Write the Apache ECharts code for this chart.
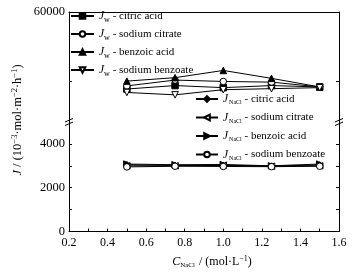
<!DOCTYPE html>
<html><head><meta charset="utf-8">
<script src="https://cdn.jsdelivr.net/npm/echarts@6/dist/echarts.min.js"></script>
<style>html,body{margin:0;padding:0;background:#fff}#c{width:362px;height:272px}</style>
</head><body><div id="c"></div>
<script>
// ---- data ----
const xValues = [0.5, 0.75, 1.0, 1.25, 1.5];
const jwCitricAcid = [48800, 49300, 49000, 49300, 49100];
const jwSodiumCitrate = [49250, 50100, 49900, 49800, 49100];
const jwBenzoicAcid = [49950, 50450, 51500, 50350, 49100];
const jwSodiumBenzoate = [48300, 47950, 48700, 48850, 49000];
const jnaclCitricAcid = [3050, 3020, 3010, 2990, 3040];
const jnaclSodiumCitrate = [3000, 3000, 3030, 2980, 3000];
const jnaclBenzoicAcid = [3080, 3050, 3060, 3000, 3080];
const jnaclSodiumBenzoate = [2950, 2980, 2970, 2960, 2980];
const yLowerLabels = [0, 2000, 4000];
const yLowerTicks = [1000, 2000, 3000, 4000];
const yUpperLabels = [60000];
const yUpperTicks = [50000];
const soluteNames = ['citric acid', 'sodium citrate', 'benzoic acid', 'sodium benzoate'];

const FONT = 'Liberation Serif';
const BLACK = '#000';
const pairs = arr => xValues.map((x, i) => [x, arr[i]]);

function mk(name, data, grid, symbol, rotate, filled) {
  return {
    name, type: 'line', data: pairs(data),
    xAxisIndex: grid, yAxisIndex: grid === 0 ? 0 : 2,
    symbol, symbolRotate: rotate, symbolSize: 6.5,
    showSymbol: true,
    lineStyle: { color: BLACK, width: 1 },
    itemStyle: { color: filled ? BLACK : '#fff', borderColor: BLACK, borderWidth: 1 },
    emphasis: { disabled: true }, z: 3
  };
}

const upperNames = soluteNames.map(s => 'Jw - ' + s);
const lowerNames = soluteNames.map(s => 'JNaCl - ' + s);

const series = [
  mk(upperNames[0], jwCitricAcid, 0, 'rect', 0, true),
  mk(upperNames[1], jwSodiumCitrate, 0, 'circle', 0, false),
  mk(upperNames[2], jwBenzoicAcid, 0, 'triangle', 0, true),
  mk(upperNames[3], jwSodiumBenzoate, 0, 'triangle', 180, false),
  mk(lowerNames[0], jnaclCitricAcid, 1, 'diamond', 0, true),
  mk(lowerNames[1], jnaclSodiumCitrate, 1, 'triangle', 90, false),
  mk(lowerNames[2], jnaclBenzoicAcid, 1, 'triangle', -90, true),
  mk(lowerNames[3], jnaclSodiumBenzoate, 1, 'circle', 0, false)
];

const richBase = {
  j: { fontFamily: FONT, fontSize: 11.5, fontStyle: 'italic', color: BLACK },
  s: { fontFamily: FONT, fontSize: 8, color: BLACK, padding: [7, 0, 0, 0] },
  ss: { fontFamily: FONT, fontSize: 6, color: BLACK, padding: [7, 0, 0, 1] },
  t: { fontFamily: FONT, fontSize: 11, color: BLACK }
};

const legendCommon = {
  orient: 'vertical', itemHeight: 7,
  selectedMode: false,
  textStyle: { fontFamily: FONT, fontSize: 11, color: BLACK, rich: richBase }
};

const chart = echarts.init(document.getElementById('c'), null, { renderer: 'canvas' });
const axisLine = { show: true, lineStyle: { color: BLACK, width: 1 } };
const fmt = v => String(v);

chart.setOption({
  animation: false,
  backgroundColor: '#fff',
  grid: [
    { left: 69, right: 23, top: 12, height: 110 },
    { left: 69, right: 23, top: 122, height: 109.5 }
  ],
  xAxis: [
    { type: 'value', gridIndex: 0, position: 'top', min: 0.2, max: 1.6, interval: 0.2,
      axisLine, axisTick: { show: false }, axisLabel: { show: false }, splitLine: { show: false } },
    { type: 'value', gridIndex: 1, position: 'bottom', min: 0.2, max: 1.6, interval: 0.2,
      axisLine,
      axisTick: { show: true, inside: true, length: 3, lineStyle: { color: BLACK } },
      minorTick: { show: true, splitNumber: 2, length: 3, lineStyle: { color: BLACK } },
      axisLabel: { color: BLACK, fontFamily: FONT, fontSize: 12, margin: 5, formatter: v => v.toFixed(1) },
      splitLine: { show: false },
      name: '{c|C}{s|NaCl}{t| / (mol·L}{p|−1}{t|)}', nameLocation: 'middle', nameGap: 23,
      nameTextStyle: { padding: [0, 0, 0, 16], rich: {
        c: { fontFamily: FONT, fontSize: 12, fontStyle: 'italic', color: BLACK },
        s: { fontFamily: FONT, fontSize: 7, color: BLACK, padding: [7, 1, 0, 0] },
        t: { fontFamily: FONT, fontSize: 12, color: BLACK },
        p: { fontFamily: FONT, fontSize: 8, color: BLACK, padding: [0, 0, 7, 0] }
      } } }
  ],
  yAxis: [
    { type: 'value', gridIndex: 0, position: 'left', min: 44000, max: 60000,
      axisLine,
      axisTick: { show: true, inside: true, length: 3, customValues: yUpperTicks, lineStyle: { color: BLACK } },
      axisLabel: { color: BLACK, fontFamily: FONT, fontSize: 12.5, margin: 4, customValues: yUpperLabels, formatter: fmt },
      splitLine: { show: false } },
    { type: 'value', gridIndex: 0, position: 'right', min: 44000, max: 60000,
      axisLine,
      axisTick: { show: true, inside: true, length: 3, customValues: yUpperTicks, lineStyle: { color: BLACK } },
      axisLabel: { show: false }, splitLine: { show: false } },
    { type: 'value', gridIndex: 1, position: 'left', min: 0, max: 5000,
      axisLine,
      axisTick: { show: true, inside: true, length: 3, customValues: yLowerTicks, lineStyle: { color: BLACK } },
      axisLabel: { color: BLACK, fontFamily: FONT, fontSize: 12.5, margin: 4, customValues: yLowerLabels, formatter: fmt },
      splitLine: { show: false } },
    { type: 'value', gridIndex: 1, position: 'right', min: 0, max: 5000,
      axisLine,
      axisTick: { show: true, inside: true, length: 3, customValues: yLowerTicks, lineStyle: { color: BLACK } },
      axisLabel: { show: false }, splitLine: { show: false } }
  ],
  legend: [
    Object.assign({}, legendCommon, {
      data: upperNames, left: 65, top: 5, itemWidth: 23, itemGap: 4.5,
      formatter: n => '{j|J}{s|w}{t| - ' + n.slice(5) + '}'
    }),
    Object.assign({}, legendCommon, {
      data: lowerNames, left: 190, top: 88, itemWidth: 22, itemGap: 6,
      formatter: n => '{j|J}{ss|NaCl}{t| - ' + n.slice(8) + '}'
    })
  ],
  graphic: [
    { type: 'text', x: 18, y: 120, rotation: Math.PI / 2, z: 10,
      style: {
        text: '{i|J}{t| / (10}{p|−3}{t|·mol·m}{p|−2}{t|·h}{p|−1}{t|)}',
        align: 'center', verticalAlign: 'middle',
        rich: {
          i: { fontFamily: FONT, fontSize: 12.5, fontStyle: 'italic', fill: BLACK },
          t: { fontFamily: FONT, fontSize: 12.5, fill: BLACK },
          p: { fontFamily: FONT, fontSize: 8.5, fill: BLACK, padding: [0, 0, 7, 0] }
        }
      } },
    { type: 'line', z: 10, shape: { x1: 65, y1: 122, x2: 73, y2: 118.5 }, style: { stroke: BLACK, lineWidth: 1 } },
    { type: 'line', z: 10, shape: { x1: 65, y1: 125.5, x2: 73, y2: 122 }, style: { stroke: BLACK, lineWidth: 1 } },
    { type: 'line', z: 10, shape: { x1: 335, y1: 122, x2: 343, y2: 118.5 }, style: { stroke: BLACK, lineWidth: 1 } },
    { type: 'line', z: 10, shape: { x1: 335, y1: 125.5, x2: 343, y2: 122 }, style: { stroke: BLACK, lineWidth: 1 } }
  ],
  series
});
</script>
</body></html>
